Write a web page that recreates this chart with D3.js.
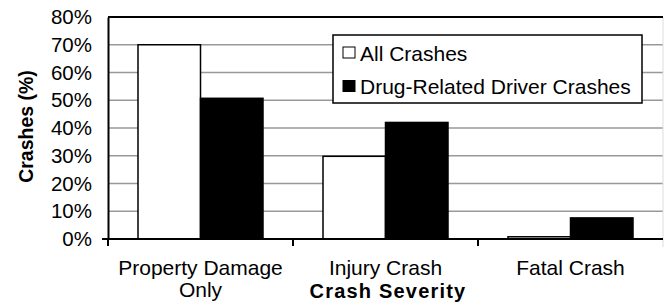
<!DOCTYPE html>
<html>
<head>
<meta charset="utf-8">
<script src="https://cdn.jsdelivr.net/npm/d3@7"></script>
<style>
  body { margin: 0; background: #fff; }
  text { font-family: "Liberation Sans", Arial, sans-serif; fill: #000; }
</style>
</head>
<body>
<div id="app"></div>
<script>
// data
const categories = [['Property Damage', 'Only'], ['Injury Crash'], ['Fatal Crash']]
const seriesNames = ['All Crashes', 'Drug-Related Driver Crashes']
const allCrashes = [70, 29.8, 0.8]
const drugCrashes = [50.7, 42, 7.6]
const yTicks = [0, 10, 20, 30, 40, 50, 60, 70, 80]
const fills = ['#fff', '#000']

const W = 665, H = 303
const m = {left: 108, right: 2, top: 17, bottom: 64}

const svg = d3.select('#app').append('svg').attr('width', W).attr('height', H)

const x = d3.scaleBand().domain(d3.range(categories.length)).range([m.left, W - m.right]).paddingInner(0).paddingOuter(0)
const xs = d3.scaleBand().domain([0, 1]).range([0, x.bandwidth()]).paddingInner(0).paddingOuter(0.48)
const y = d3.scaleLinear().domain([0, 80]).range([H - m.bottom, m.top])

// gridlines
svg.append('g').selectAll('line').data(yTicks.filter(d => d > 0 && d < 80)).enter().append('line')
  .attr('x1', m.left).attr('x2', W - m.right)
  .attr('y1', d => y(d)).attr('y2', d => y(d))
  .attr('stroke', '#999').attr('stroke-width', 1.5)

// right faint border
svg.append('line').attr('x1', W - m.right).attr('x2', W - m.right)
  .attr('y1', m.top).attr('y2', y(0) + 8).attr('stroke', '#ddd').attr('stroke-width', 1)

// top line
svg.append('line').attr('x1', m.left).attr('x2', W - m.right)
  .attr('y1', y(80)).attr('y2', y(80)).attr('stroke', '#000').attr('stroke-width', 2)

// bars
const rows = categories.map((c, i) => [allCrashes[i], drugCrashes[i]])
const grp = svg.append('g').selectAll('g').data(rows).enter().append('g')
  .attr('transform', (d, i) => `translate(${x(i)},0)`)
grp.selectAll('rect').data(d => d).enter().append('rect')
  .attr('x', (d, j) => xs(j))
  .attr('width', xs.bandwidth())
  .attr('y', d => y(d))
  .attr('height', d => y(0) - y(d))
  .attr('fill', (d, j) => fills[j])
  .attr('stroke', '#000').attr('stroke-width', 1.5)

// y axis
const yAxis = d3.axisLeft(y).tickValues(yTicks).tickFormat(d => d + '%').tickSize(0).tickPadding(16)
const ya = svg.append('g').attr('transform', `translate(${m.left},0)`).call(yAxis)
ya.select('.domain').attr('stroke', '#000').attr('stroke-width', 2)
ya.selectAll('text').style('font-size', '20.5px').style('font-family', '"Liberation Sans", Arial, sans-serif')
svg.append('line').attr('x1', m.left - 6).attr('x2', m.left).attr('y1', y(0)).attr('y2', y(0))
  .attr('stroke', '#000').attr('stroke-width', 2)

// x axis
svg.append('line').attr('x1', m.left).attr('x2', W - m.right).attr('y1', y(0)).attr('y2', y(0))
  .attr('stroke', '#000').attr('stroke-width', 2)
svg.append('g').selectAll('line').data(d3.range(categories.length)).enter().append('line')
  .attr('x1', i => x(i)).attr('x2', i => x(i))
  .attr('y1', y(0)).attr('y2', y(0) + 7)
  .attr('stroke', '#000').attr('stroke-width', 2)

const cl = svg.append('g').selectAll('text').data(categories).enter().append('text')
  .attr('text-anchor', 'middle')
  .attr('x', (d, i) => x(i) + x.bandwidth() / 2)
  .attr('y', 275)
  .style('font-size', '21px')
cl.selectAll('tspan').data(d => d).enter().append('tspan')
  .attr('x', function () { return d3.select(this.parentNode).attr('x') })
  .attr('dy', (d, k) => k === 0 ? 0 : 22)
  .text(d => d)

// axis titles
svg.append('text').attr('x', 388).attr('y', 298).attr('text-anchor', 'middle')
  .style('font-size', '20px').style('font-weight', 'bold').style('letter-spacing', '1.2px')
  .text('Crash Severity')
svg.append('text').attr('transform', 'translate(33,126.5) rotate(-90)')
  .attr('text-anchor', 'middle')
  .style('font-size', '19.5px').style('font-weight', 'bold')
  .text('Crashes (%)')

// legend
const lg = svg.append('g').attr('transform', 'translate(333,35)')
lg.append('rect').attr('width', 309).attr('height', 68).attr('fill', '#fff').attr('stroke', '#000').attr('stroke-width', 1.5)
const li = lg.selectAll('g').data(seriesNames).enter().append('g')
  .attr('transform', (d, i) => `translate(10,${17.5 + i * 33.5})`)
li.append('rect').attr('x', 0).attr('y', -5.5).attr('width', 12).attr('height', 11)
  .attr('fill', (d, i) => fills[i]).attr('stroke', '#000').attr('stroke-width', 1)
li.append('text').attr('x', 17).attr('y', 8).style('font-size', '21px').text(d => d)
</script>
</body>
</html>
